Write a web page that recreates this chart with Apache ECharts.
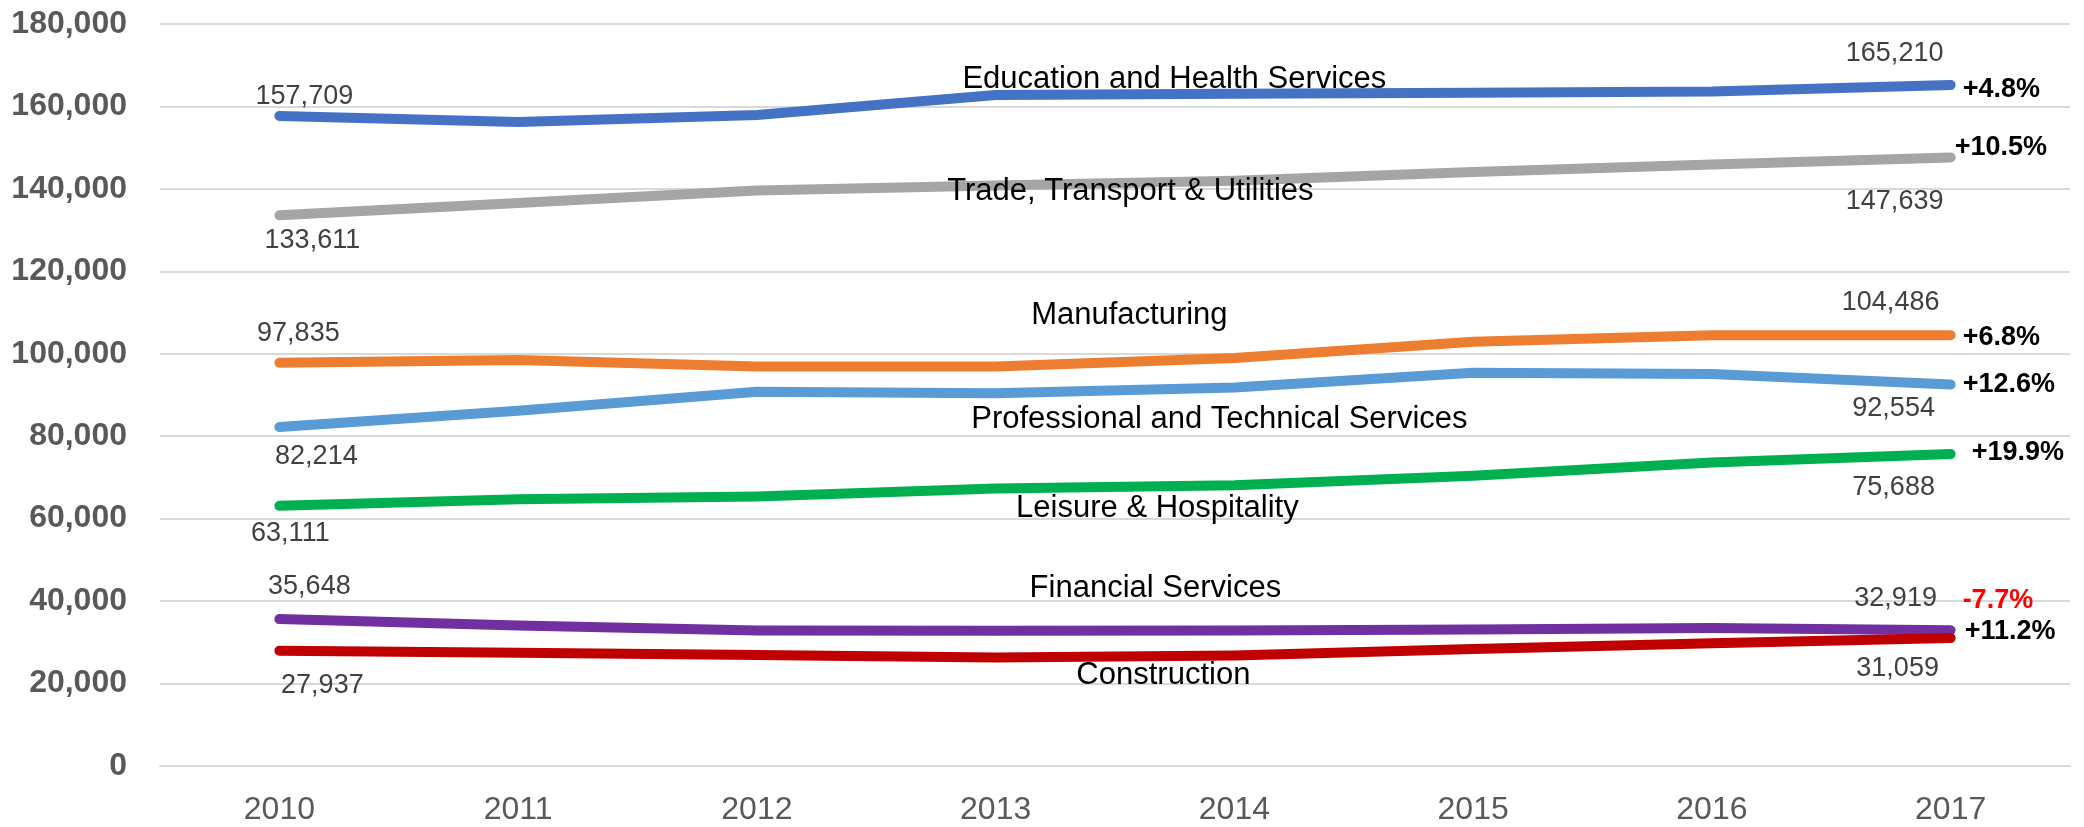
<!DOCTYPE html>
<html>
<head>
<meta charset="utf-8">
<script src="https://cdn.jsdelivr.net/npm/echarts@6/dist/echarts.min.js"></script>
<style>
  html, body { margin: 0; padding: 0; background: #fff; }
  #chart { width: 2084px; height: 827px; }
</style>
</head>
<body>
<div id="chart"></div>
<script>
// data
const years = ['2010', '2011', '2012', '2013', '2014', '2015', '2016', '2017']
const seriesNames = [
  'Education and Health Services',
  'Trade, Transport & Utilities',
  'Manufacturing',
  'Professional and Technical Services',
  'Leisure & Hospitality',
  'Financial Services',
  'Construction'
]
const education = [157709, 156250, 157900, 162800, 163100, 163300, 163600, 165210]
const trade = [133611, 136600, 139600, 140800, 142000, 144100, 145900, 147639]
const manufacturing = [97835, 98500, 96900, 96900, 99000, 102900, 104500, 104486]
const professional = [82214, 86200, 90800, 90400, 91800, 95400, 95100, 92554]
const leisure = [63111, 64700, 65400, 67300, 68100, 70400, 73600, 75688]
const financial = [35648, 34100, 32900, 32800, 32900, 33100, 33500, 32919]
const construction = [27937, 27500, 26900, 26300, 26800, 28400, 29800, 31059]
const changeLabels = ['+4.8%', '+10.5%', '+6.8%', '+12.6%', '+19.9%', '-7.7%', '+11.2%']
const yTicks = { min: 0, max: 180000, step: 20000 }

const values = [education, trade, manufacturing, professional, leisure, financial, construction]

// styling / label placement (pixel offsets from the point)
const NAME_AT = 4
const styles = [
  { color: '#4472C4', first: [25, -19], last: [-56, -31], name: [-60, -14], change: [12, 5], changeColor: '#000' },
  { color: '#A5A5A5', first: [33, 25], last: [-56, 44], name: [-104, 11], change: [4, -10], changeColor: '#000' },
  { color: '#ED7D31', first: [19, -29], last: [-60, -33], name: [-105, -42], change: [12, 2], changeColor: '#000' },
  { color: '#5B9BD5', first: [37, 29], last: [-57, 24], name: [-15, 32], change: [12, 0], changeColor: '#000' },
  { color: '#00B050', first: [11, 28], last: [-57, 34], name: [-77, 23], change: [21, -1], changeColor: '#000' },
  { color: '#7030A0', first: [30, -33], last: [-55, -32], name: [-79, -42], change: [12, -30], changeColor: '#FF0000' },
  { color: '#C00000', first: [43, 35], last: [-53, 31], name: [-71, 20], change: [14, -6], changeColor: '#000' }
]

const FONT = "'Liberation Sans', Arial, sans-serif"
const fmt = v => v.toLocaleString('en-US')

function buildSeries(i) {
  const st = styles[i]
  const last = values[i].length - 1
  const data = values[i].map((v, idx) => {
    let label = null
    if (idx === 0 || idx === last) {
      label = {
        show: true,
        position: 'inside',
        formatter: fmt(v),
        offset: idx === 0 ? st.first : st.last,
        color: '#404040',
        fontSize: 27
      }
    } else if (idx === NAME_AT) {
      label = {
        show: true,
        position: 'inside',
        formatter: seriesNames[i],
        offset: st.name,
        color: '#000',
        fontSize: 31
      }
    }
    return label ? { value: v, label: label } : v
  })
  return {
    name: seriesNames[i],
    type: 'line',
    data: data,
    symbol: 'circle',
    symbolSize: 1,
    showSymbol: true,
    itemStyle: { color: st.color },
    lineStyle: { color: st.color, width: 10, cap: 'round', join: 'round' },
    label: { show: false, fontFamily: FONT },
    endLabel: {
      show: true,
      formatter: changeLabels[i],
      distance: 0,
      offset: st.change,
      color: st.changeColor,
      fontWeight: 'bold',
      fontSize: 27,
      fontFamily: FONT
    },
    emphasis: { disabled: true },
    z: 2 + i
  }
}

const chart = echarts.init(document.getElementById('chart'))
chart.setOption({
  animation: false,
  backgroundColor: '#fff',
  textStyle: { fontFamily: FONT },
  grid: { left: 160, right: 14, top: 24, bottom: 61, outerBoundsMode: 'none' },
  xAxis: {
    type: 'category',
    data: years,
    boundaryGap: true,
    axisLine: { show: true, lineStyle: { color: '#D9D9D9', width: 2 } },
    axisTick: { show: false },
    axisLabel: { color: '#595959', fontSize: 32, margin: 28, fontFamily: FONT }
  },
  yAxis: {
    type: 'value',
    min: yTicks.min,
    max: yTicks.max,
    interval: yTicks.step,
    axisLine: { show: false },
    axisTick: { show: false },
    splitLine: { lineStyle: { color: '#D9D9D9', width: 2 } },
    axisLabel: {
      color: '#595959',
      fontSize: 32,
      fontWeight: 'bold',
      margin: 33,
      fontFamily: FONT,
      formatter: v => fmt(v)
    }
  },
  tooltip: { show: false },
  series: values.map((v, i) => buildSeries(i))
})
</script>
</body>
</html>
